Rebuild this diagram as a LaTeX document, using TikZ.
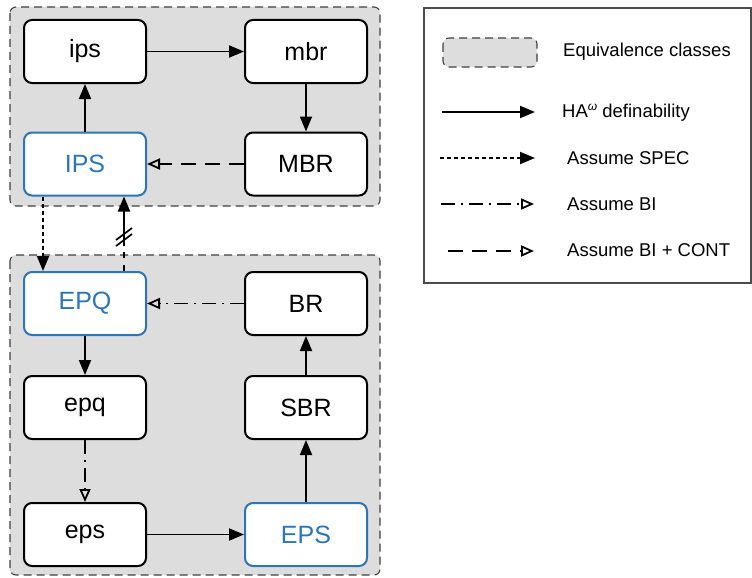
\documentclass[tikz,border=0pt]{standalone}
\usepackage{fontspec}
\setmainfont{Liberation Sans}
\usetikzlibrary{arrows.meta}
\definecolor{nodeblue}{RGB}{46,117,182}
\definecolor{groupgray}{RGB}{221,221,221}
\begin{document}
\begin{tikzpicture}[x=1pt,y=-1pt,
  box/.style={draw=black, line width=2pt, fill=white, rounded corners=8pt, minimum width=122pt, minimum height=63pt, inner sep=0pt, font=\fontsize{25}{29}\selectfont},
  bluebox/.style={box, draw=nodeblue, text=nodeblue},
  group/.style={draw=black!75, fill=groupgray, dash pattern=on 8pt off 5pt, line width=1.1pt, rounded corners=6pt},
  defn/.style={line width=1.8pt, -{Triangle[length=15pt,width=12pt]}},
  spec/.style={defn, dash pattern=on 4pt off 3pt},
  bi/.style={line width=1.8pt, dash pattern=on 14pt off 6pt on 2pt off 6pt, -{Triangle[open,length=13pt,width=11pt]}},
  bicont/.style={line width=1.8pt, dash pattern=on 15pt off 9pt, -{Triangle[open,length=13pt,width=11pt]}},
  brkline/.style={defn, dash pattern=on 6pt off 7pt on 6pt off 6pt on 300pt},
  slash/.style={line width=1.7pt},
  legtext/.style={anchor=west, inner sep=0pt, font=\fontsize{18.5}{22}\selectfont},
  legbox/.style={draw=black!70, line width=1.1pt}
]
\useasboundingbox (0,0) rectangle (752,578);

% groups
\path[group] (10,7) rectangle (380,206);
\path[group] (10,255) rectangle (380,575);

% nodes
\node[box] (ipsl) at (85,51.5) {ips};
\node[box] (mbrl) at (306,51.5) {mbr};
\node[bluebox] (IPSu) at (85,164) {IPS};
\node[box] (MBRu) at (306,164) {MBR};
\node[bluebox] (EPQu) at (85,303.5) {EPQ};
\node[box] (BRu) at (306,303.5) {BR};
\node[box] (epql) at (85,407.5) {epq};
\node[box] (SBRu) at (306,407.5) {SBR};
\node[box] (epsl) at (85,534.5) {eps};
\node[bluebox] (EPSu) at (306,534.5) {EPS};

% connectors
\draw[defn] (ipsl) -- (mbrl);
\draw[defn] (mbrl) -- (MBRu);
\draw[bicont] (MBRu) -- (IPSu);
\draw[defn] (IPSu) -- (ipsl);
\draw[spec] ([xshift=-42pt]IPSu.south) -- ([xshift=-42pt]EPQu.north);
\draw[brkline] ([xshift=39pt]EPQu.north) -- ([xshift=39pt]IPSu.south);
\coordinate (brk) at (124,237);
\draw[slash] ([shift={(-8,3)}]brk) -- ([shift={(8,-9)}]brk);
\draw[slash] ([shift={(-8,9)}]brk) -- ([shift={(8,-3)}]brk);
\draw[bi] (BRu) -- (EPQu);
\draw[defn] (EPQu) -- (epql);
\draw[bi] (epql) -- (epsl);
\draw[defn] (epsl) -- (EPSu);
\draw[defn] (EPSu) -- (SBRu);
\draw[defn] (SBRu) -- (BRu);

% legend
\draw[legbox] (424,8) rectangle (751,283);
\path[group] (443,38) rectangle (537,67);
\node[legtext] (lt1) at (563,52) {Equivalence classes};
\coordinate (l2a) at (442,112);
\coordinate (l2b) at (535,112);
\draw[defn] (l2a) -- (l2b);
\node[legtext] (lt2) at (562,113) {HA\raisebox{7pt}{\fontsize{12}{12}\selectfont\itshape ω} definability};
\coordinate (l3a) at (440,158);
\coordinate (l3b) at (535,158);
\draw[spec] (l3a) -- (l3b);
\node[legtext] (lt3) at (567,158) {Assume SPEC};
\coordinate (l4a) at (441,204);
\coordinate (l4b) at (534,204);
\draw[bi] (l4a) -- (l4b);
\node[legtext] (lt4) at (567,204) {Assume BI};
\coordinate (l5a) at (448,251);
\coordinate (l5b) at (534,251);
\draw[bicont] (l5a) -- (l5b);
\node[legtext] (lt5) at (567,250) {Assume BI + CONT};
\end{tikzpicture}
\end{document}
